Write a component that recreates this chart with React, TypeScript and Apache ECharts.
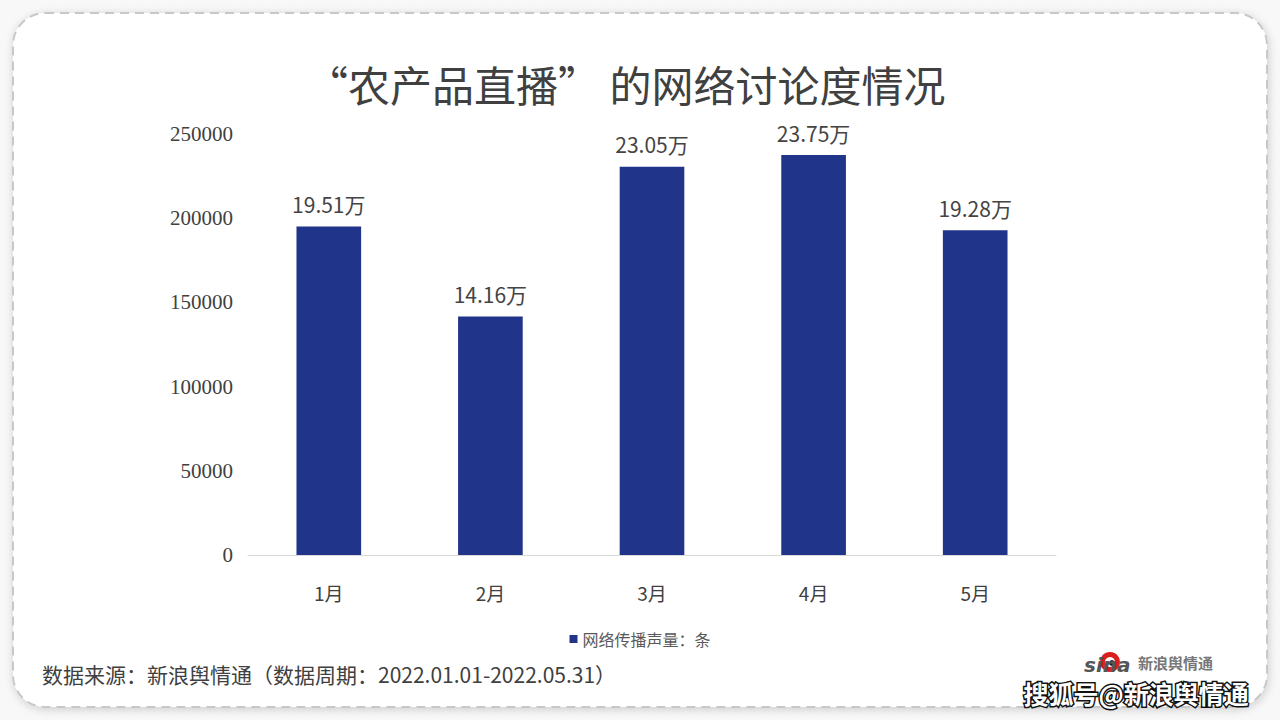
import React, { useEffect, useRef } from "react";
import * as echarts from "echarts";

const months = ["1月", "2月", "3月", "4月", "5月"];
const volumes = [195100, 141600, 230500, 237500, 192800];
const yTicks = [0, 50000, 100000, 150000, 200000, 250000];
const seriesName = "网络传播声量：条";
const titleText = "“农产品直播” 的网络讨论度情况";
const sourceText = "数据来源：新浪舆情通（数据周期：2022.01.01-2022.05.31）";

export default function App() {
  const ref = useRef<HTMLDivElement>(null);
  useEffect(() => {
    if (!ref.current) return;
    const chart = echarts.init(ref.current, undefined, { renderer: "svg" });
    chart.setOption({
      animation: false,
      backgroundColor: "#f8f8f8",
      title: {
        text: titleText,
        left: 301,
        top: 57,
        textStyle: {
          fontFamily: "Noto Sans CJK SC",
          fontSize: 42,
          fontWeight: "normal",
          color: "#404040",
        },
      },
      legend: {
        bottom: 68,
        left: "center",
        itemWidth: 8,
        itemHeight: 8,
        icon: "rect",
        textStyle: { fontFamily: "Noto Sans CJK SC", fontSize: 16, color: "#595959" },
        data: [seriesName],
      },
      grid: { left: 248, right: 224, top: 134, bottom: 165 },
      xAxis: {
        type: "category",
        data: months,
        axisLine: { lineStyle: { color: "#d9d9d9", width: 1 } },
        axisTick: { show: false },
        axisLabel: {
          margin: 28,
          fontSize: 19,
          color: "#404040",
          fontFamily: "Noto Sans CJK SC",
        },
      },
      yAxis: {
        type: "value",
        min: yTicks[0],
        max: yTicks[yTicks.length - 1],
        interval: 50000,
        axisLine: { show: false },
        axisTick: { show: false },
        splitLine: { show: false },
        axisLabel: {
          margin: 15,
          fontSize: 21,
          color: "#404040",
          fontFamily: "Liberation Serif",
          formatter: (v: number) => String(v),
        },
      },
      series: [
        {
          name: seriesName,
          type: "bar",
          data: volumes,
          barWidth: "40%",
          itemStyle: { color: "#203589" },
          label: {
            show: true,
            position: "top",
            distance: 12,
            fontSize: 21,
            color: "#444444",
            fontFamily: "Noto Sans CJK SC",
            formatter: (p: any) => (p.value / 10000).toFixed(2) + "万",
          },
        },
      ],
      graphic: [
        {
          type: "rect",
          z: -10,
          shape: { x: 13, y: 13, width: 1254, height: 694, r: 32 },
          style: {
            fill: "#ffffff",
            stroke: "#c8c8c8",
            lineWidth: 2,
            lineDash: [9, 6],
            shadowBlur: 8,
            shadowOffsetX: 1,
            shadowOffsetY: 2,
            shadowColor: "rgba(0,0,0,0.18)",
          },
        },
        {
          type: "text",
          left: 42,
          top: 663,
          style: {
            text: sourceText,
            fontSize: 21,
            fill: "#404040",
            fontFamily: "Noto Sans CJK SC",
          },
        },
        {
          type: "ring",
          shape: { cx: 1110, cy: 662, r: 10, r0: 5 },
          style: { fill: "#d9201f" },
        },
        {
          type: "circle",
          shape: { cx: 1112, cy: 663, r: 3 },
          style: { fill: "#222" },
        },
        {
          type: "text",
          left: 1084,
          top: 655,
          style: {
            text: "sina",
            fontSize: 20,
            fontWeight: "bold",
            fontStyle: "italic",
            fill: "#555",
            fontFamily: "DejaVu Sans",
          },
        },
        {
          type: "text",
          left: 1138,
          top: 655,
          style: {
            text: "新浪舆情通",
            fontSize: 15,
            fontWeight: "bold",
            fill: "#777",
            fontFamily: "Noto Sans CJK SC",
          },
        },
        {
          type: "text",
          left: 1022,
          top: 679,
          style: {
            text: "搜狐号@新浪舆情通",
            fontSize: 25,
            fontWeight: "bold",
            fill: "#ffffff",
            stroke: "#111111",
            lineWidth: 3,
            fontFamily: "Noto Sans CJK SC",
          },
        },
      ],
    });
    return () => chart.dispose();
  }, []);
  return (
    <div
      ref={ref}
      style={{ position: "fixed", left: 0, top: 0, width: 1280, height: 720 }}
    />
  );
}
